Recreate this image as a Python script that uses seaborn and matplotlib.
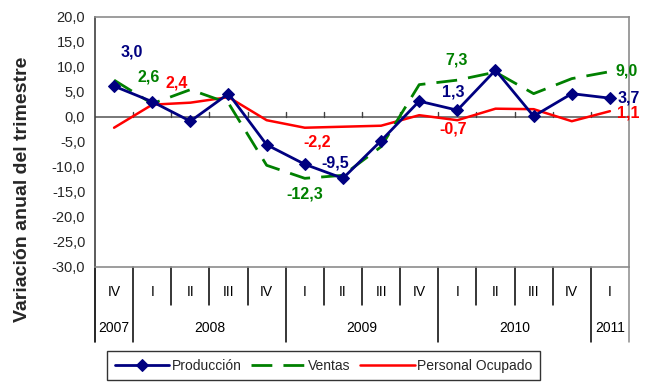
import matplotlib
matplotlib.use("Agg")
import matplotlib.pyplot as plt
import seaborn as sns
import pandas as pd

# Quarterly year-on-year change (%)
quarters = ["IV", "I", "II", "III", "IV", "I", "II", "III", "IV", "I", "II", "III", "IV", "I"]
years = ["2007", "2008", "2009", "2010", "2011"]
year_spans = [(0, 0), (1, 4), (5, 8), (9, 12), (13, 13)]
produccion = [6.1, 3.0, -0.9, 4.6, -5.6, -9.5, -12.3, -4.8, 3.1, 1.3, 9.3, 0.1, 4.6, 3.7]
ventas = [7.3, 2.6, 5.4, 2.7, -9.7, -12.3, -11.7, -6.0, 6.4, 7.3, 8.9, 4.6, 7.6, 9.0]
personal = [-2.2, 2.4, 2.8, 3.9, -0.7, -2.2, -2.0, -1.8, 0.3, -0.7, 1.6, 1.5, -0.9, 1.1]
y_ticks = [20, 15, 10, 5, 0, -5, -10, -15, -20, -25, -30]
y_tick_labels = ["20,0", "15,0", "10,0", "5,0", "0,0", "-5,0", "-10,0", "-15,0", "-20,0", "-25,0", "-30,0"]
series_names = ["Producción", "Ventas", "Personal Ocupado"]
# quarters whose values are written on the chart
labelled_idx = [1, 5, 9, 13]

sns.set_style("white")
plt.rcParams["font.family"] = ["Liberation Sans", "DejaVu Sans"]

pos = list(range(len(quarters)))
df = pd.DataFrame({"pos": pos, "prod": produccion, "vent": ventas, "pers": personal})

W, H = 656, 383
fig = plt.figure(figsize=(W / 100, H / 100), dpi=100)
x0, x1, y0, y1 = 95, 629, 16.5, 267
ax = fig.add_axes([x0 / W, 1 - y1 / H, (x1 - x0) / W, (y1 - y0) / H])

BLUE, GREEN, RED = "#000080", "#008000", "#FF0000"

sns.lineplot(data=df, x="pos", y="prod", ax=ax, color=BLUE, lw=2.0, marker="D",
             markersize=6, markeredgecolor=BLUE, markerfacecolor=BLUE,
             label=series_names[0], zorder=5)
sns.lineplot(data=df, x="pos", y="vent", ax=ax, color=GREEN, lw=2.0,
             label=series_names[1], zorder=4)
sns.lineplot(data=df, x="pos", y="pers", ax=ax, color=RED, lw=1.8,
             label=series_names[2], zorder=3)
ax.lines[1].set_dashes((7.5, 4))

ax.set_xlim(-0.5, len(quarters) - 0.5)
ax.set_ylim(-30, 20)
ax.set_yticks(y_ticks)
ax.set_yticklabels(y_tick_labels, fontsize=10.5)
ax.tick_params(axis="y", direction="out", length=5, width=1, color="#404040", pad=2)
ax.set_xticks([])
ax.set_xlabel("")
ax.set_ylabel("")

for side in ["top", "right", "bottom"]:
    ax.spines[side].set_color("#8c8c8c")
    ax.spines[side].set_linewidth(1.2)
ax.spines["left"].set_color("#404040")
ax.spines["left"].set_linewidth(1.2)

# zero line with category ticks
ax.axhline(0, color="#606060", lw=1.2, zorder=2)
for k in range(1, len(quarters)):
    ax.plot([k - 0.5, k - 0.5], [0, 1.0], color="#404040", lw=1, zorder=2)

# category table below the plot
tr = ax.get_xaxis_transform()
ah = y1 - y0
q_bot = -(305 - y1) / ah
yr_bot = -(342 - y1) / ah
year_bounds = [s[0] for s in year_spans] + [len(quarters)]
for k in range(len(quarters) + 1):
    bot = yr_bot if k in year_bounds else q_bot
    col = "#8c8c8c" if k == len(quarters) else "black"
    ax.plot([k - 0.5, k - 0.5], [0, bot], color=col, lw=1.1 if k else 1.2,
            transform=tr, clip_on=False)
for i, q in enumerate(quarters):
    ax.text(i, -(291.5 - y1) / ah, q, transform=tr, ha="center", va="center",
            fontsize=10, color="black")
for yr, (a, b) in zip(years, year_spans):
    ax.text((a + b) / 2, -(328.5 - y1) / ah, yr, transform=tr, ha="center",
            va="center", fontsize=10, color="black")

# value labels (offsets in pixels: right, up)
offsets = {
    "prod": [(-20.5, 49.7), (30.3, 1.5), (-4, 18.3), (18.4, 0.0)],
    "vent": [(-3.9, 26.7), (0.3, -15.8), (-0.6, 20.6), (16.8, 0.5)],
    "pers": [(24.5, 21.8), (12, -14.2), (-4, -8.3), (18.4, -1.5)],
}
colors = {"prod": BLUE, "vent": GREEN, "pers": RED}
for key in ["prod", "vent", "pers"]:
    vals = df[key].tolist()
    for idx, (dx, dy) in zip(labelled_idx, offsets[key]):
        v = vals[idx]
        ax.annotate(f"{v:.1f}".replace(".", ","), xy=(idx, v),
                    xytext=(dx * 0.72, dy * 0.72), textcoords="offset points",
                    ha="center", va="center", fontsize=11.5, fontweight="bold",
                    color=colors[key], zorder=6, annotation_clip=False)

fig.text(23 / W, 1 - 189 / H, "Variación anual del trimestre", rotation=90,
         ha="center", va="center", fontsize=14, fontweight="bold")

handles, labels = ax.get_legend_handles_labels()
leg = ax.legend(handles, labels, ncol=3, loc="upper left",
                bbox_to_anchor=(107 / W, 1 - 351 / H), bbox_transform=fig.transFigure,
                frameon=True, fancybox=False, edgecolor="black", fontsize=10,
                handlelength=3.9, handletextpad=0.2, columnspacing=0.7,
                borderpad=0.55, borderaxespad=0)
leg.get_frame().set_linewidth(1.0)
leg.get_frame().set_facecolor("white")

fig.savefig("out.png", dpi=100)
